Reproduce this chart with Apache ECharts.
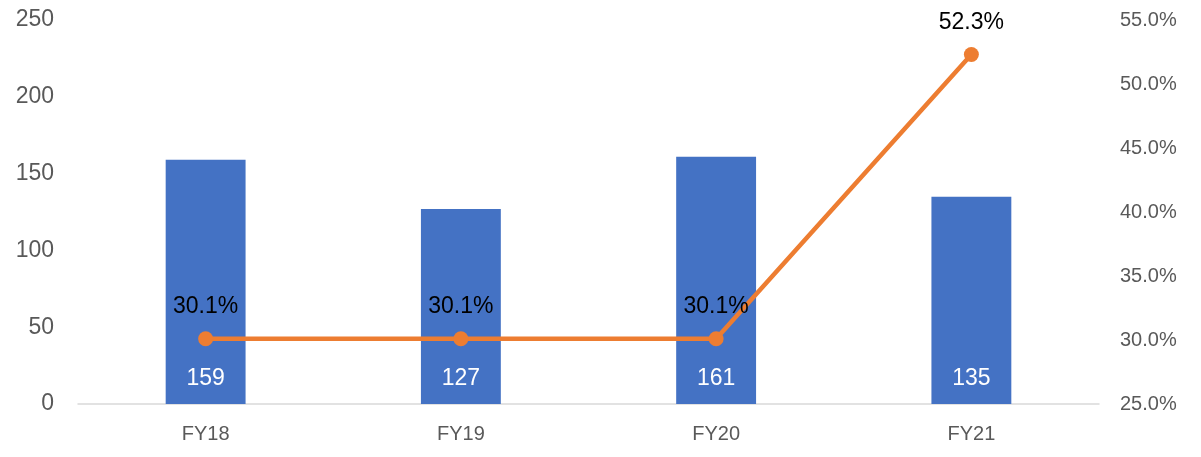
<!DOCTYPE html>
<html>
<head>
<meta charset="utf-8">
<script src="https://cdn.jsdelivr.net/npm/echarts@6/dist/echarts.min.js"></script>
<style>
  html, body { margin: 0; padding: 0; background: #fff; }
  #chart { width: 1201px; height: 457px; }
</style>
</head>
<body>
<div id="chart"></div>
<script>
// 数据
const categories = ['FY18', 'FY19', 'FY20', 'FY21'];
const barValues = [159, 127, 161, 135];
const rateValues = [30.1, 30.1, 30.1, 52.3];
const leftTicks = { min: 0, max: 250, interval: 50 };
const rightTicks = { min: 25, max: 55, interval: 5 };

const FONT = '"Liberation Sans Narrow", "Liberation Sans", Arial, sans-serif';

const chart = echarts.init(document.getElementById('chart'));

chart.setOption({
    animation: false,
    grid: {
        left: 78,
        right: 102,
        top: 20,
        bottom: 53
    },
    xAxis: {
        type: 'category',
        data: categories,
        axisTick: { show: false },
        axisLine: { lineStyle: { color: '#d9d9d9', width: 1.5 } },
        axisLabel: {
            color: '#595959',
            fontFamily: FONT,
            fontSize: 20,
            margin: 20
        }
    },
    yAxis: [{
        type: 'value',
        min: leftTicks.min,
        max: leftTicks.max,
        interval: leftTicks.interval,
        splitLine: { show: false },
        axisLine: { show: false },
        axisTick: { show: false },
        axisLabel: {
            color: '#595959',
            fontFamily: FONT,
            fontSize: 23,
            margin: 24
        }
    }, {
        type: 'value',
        min: rightTicks.min,
        max: rightTicks.max,
        interval: rightTicks.interval,
        splitLine: { show: false },
        axisLine: { show: false },
        axisTick: { show: false },
        axisLabel: {
            color: '#595959',
            fontFamily: FONT,
            fontSize: 20,
            margin: 21,
            formatter: (v) => v.toFixed(1) + '%'
        }
    }],
    series: [{
        type: 'bar',
        data: barValues,
        barWidth: '31.3%',
        itemStyle: { color: '#4472c4' },
        label: {
            show: true,
            position: 'insideBottom',
            distance: 14,
            color: '#ffffff',
            fontFamily: FONT,
            fontSize: 23
        }
    }, {
        type: 'line',
        yAxisIndex: 1,
        data: rateValues,
        symbol: 'circle',
        symbolSize: 15,
        lineStyle: { color: '#ed7d31', width: 4.5 },
        itemStyle: { color: '#ed7d31' },
        label: {
            show: true,
            position: 'top',
            distance: 13,
            color: '#000000',
            fontFamily: FONT,
            fontSize: 23,
            formatter: (p) => p.value.toFixed(1) + '%'
        }
    }]
});

window.addEventListener('resize', function() {
    chart.resize();
});
</script>
</body>
</html>
